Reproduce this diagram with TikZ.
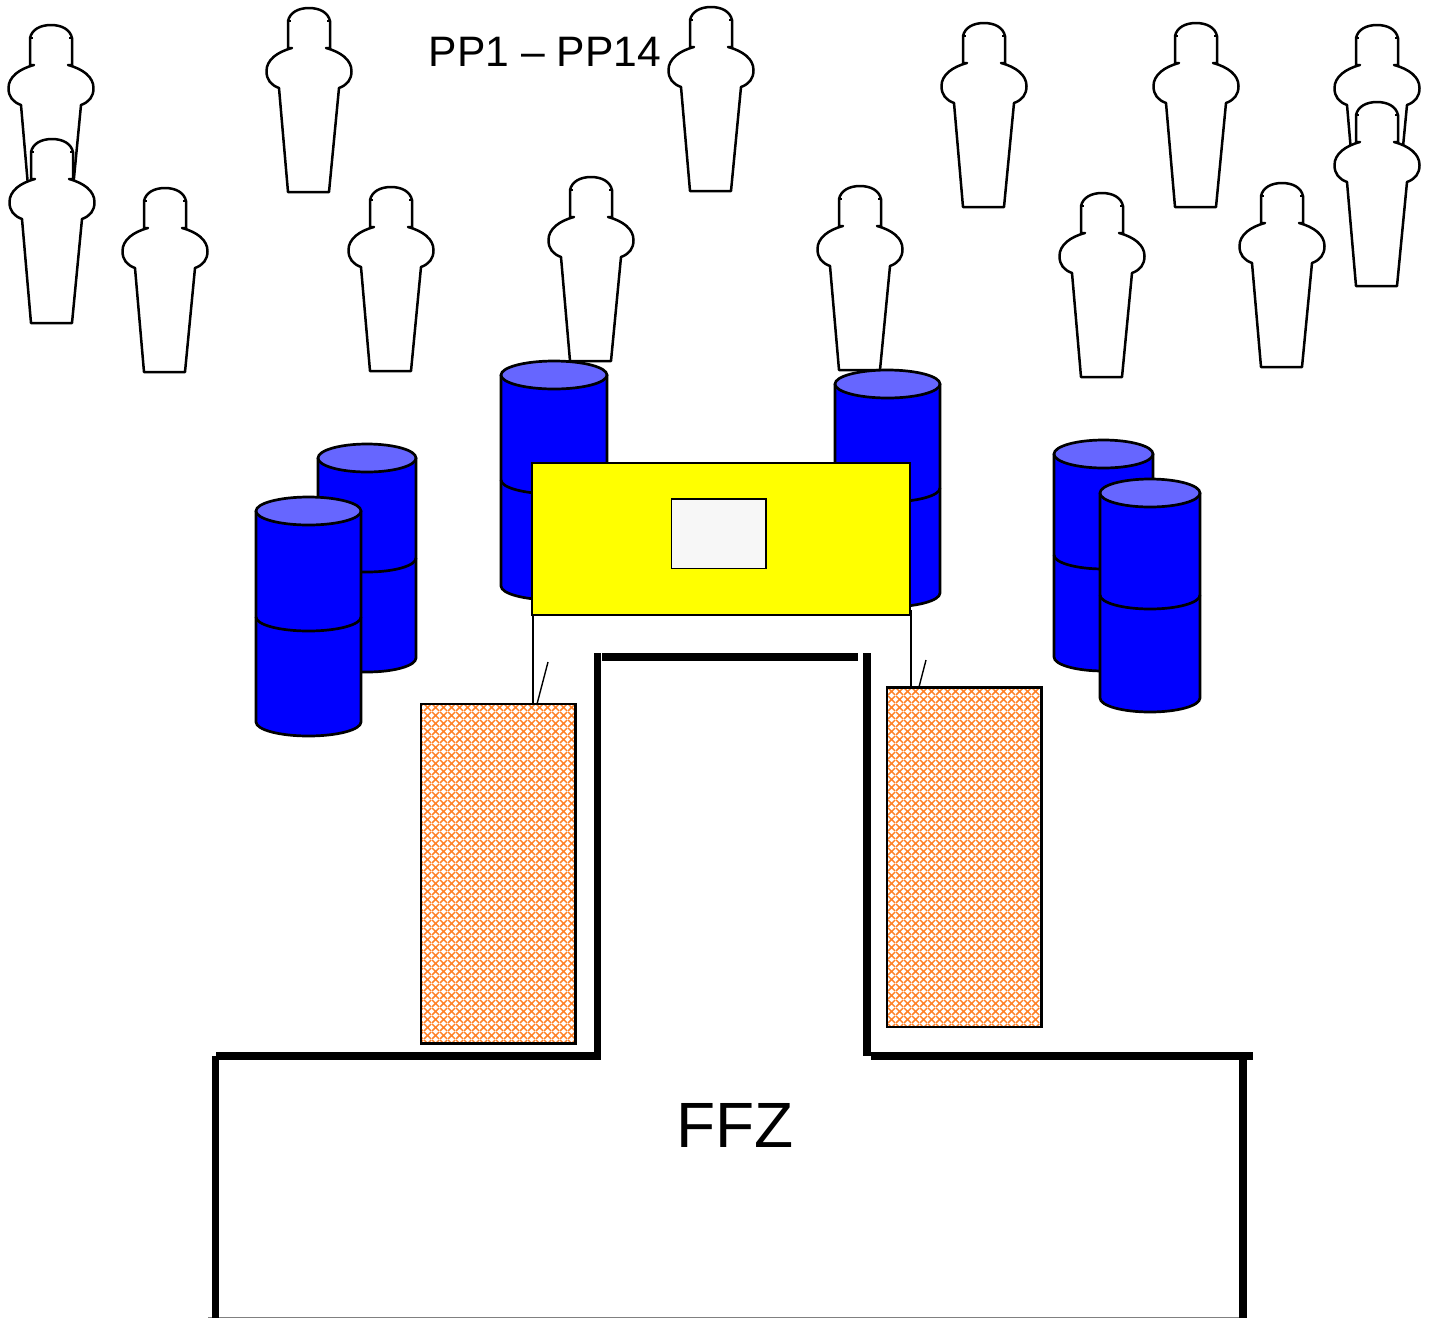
\documentclass[tikz,border=0pt]{standalone}
\usepackage{fontspec}
\setmainfont{Liberation Sans}
\usetikzlibrary{patterns}
\definecolor{cylblue}{RGB}{0,0,255}
\definecolor{cyltop}{RGB}{102,102,255}
\definecolor{tableyellow}{RGB}{255,255,0}
\definecolor{hatch}{RGB}{255,130,40}
\pgfdeclarepatternformonly{orangeweave}{\pgfpointorigin}{\pgfpoint{4pt}{4pt}}{\pgfpoint{4pt}{4pt}}{
  \pgfsetlinewidth{0.8pt}
  \pgfpathmoveto{\pgfpoint{0pt}{0pt}}\pgfpathlineto{\pgfpoint{4pt}{4pt}}
  \pgfpathmoveto{\pgfpoint{0pt}{4pt}}\pgfpathlineto{\pgfpoint{4pt}{0pt}}
  \pgfusepath{stroke}
}
\tikzset{
  x=0.5pt,y=-0.5pt,
  outl/.style={draw=black,line width=1.25pt,line join=round},
  drumline/.style={draw=black,line width=1.35pt,line join=round},
  wall/.style={draw=black,line width=3.9pt,line cap=butt},
  thin line/.style={draw=black,line width=0.7pt},
  weave/.style={draw=none,fill=white,postaction={pattern=orangeweave,pattern color=hatch}},
  matframe/.style={draw=black,line width=1.2pt,fill=none},
  label/.style={inner sep=0pt,anchor=center,text=black},
}
% person: #1 cx, #2 top y
\newcommand{\person}[2]{%
  \begin{scope}[shift={(#1,#2)}]
    \path[outl,fill=white] (-21,13) .. controls (-19,4) and (-10,0) .. (0,0)
      .. controls (10,0) and (19,4) .. (21,13) -- (21,40) -- (17,40)
      .. controls (32,44) and (42.5,52) .. (42.5,63) .. controls (42.5,72) and (38,77) .. (30,80)
      -- (20,184) -- (-21,184) -- (-30,80)
      .. controls (-38,77) and (-42.5,72) .. (-42.5,63) .. controls (-42.5,52) and (-32,44) .. (-17,40)
      -- (-21,40) -- cycle;
    \draw[black,line width=1.1pt] (-21,13)--(-18,13) (21,13)--(18,13);
  \end{scope}}
% drum: #1 left, #2 right, #3 top ellipse centre y, #4 seam side y, #5 bottom side y
\newcommand{\drum}[5]{%
  \pgfmathsetmacro{\rx}{(#2-#1)/2}\pgfmathsetmacro{\cx}{(#1+#2)/2}
  \path[drumline,fill=cylblue] (#1,#3) -- (#1,#5) arc[start angle=180,end angle=0,x radius=\rx,y radius=14]
    -- (#2,#3) -- cycle;
  \path[drumline] (#1,#4) arc[start angle=180,end angle=0,x radius=\rx,y radius=14];
  \path[drumline,fill=cyltop] (\cx,#3) ellipse[x radius=\rx,y radius=14];}
\begin{document}
\begin{tikzpicture}
\useasboundingbox (0,0) rectangle (1429,1318);
\fill[white] (0,0) rectangle (1429,1318);
% people
\person{51}{25}\person{52}{139}\person{165}{188}\person{309}{8}\person{391}{187}
\person{591}{177}\person{711}{7}\person{860}{186}\person{984}{23}\person{1102}{193}
\person{1196}{23}\person{1282}{183}\person{1377}{25}\person{1377}{102}
% drums
\drum{318}{416}{458}{558}{658}
\drum{256}{361}{511}{617}{722}
\drum{501}{607}{375}{480}{586}
\drum{835}{940}{384}{488}{593}
\drum{1054}{1153}{454}{555}{657}
\drum{1100}{1200}{493}{595}{698}
% table
\node[draw=black,line width=0.85pt,fill=tableyellow,minimum width=189pt,minimum height=76pt,inner sep=0pt,anchor=north west] (table) at (531,462) {};
\node[draw=black,line width=0.85pt,fill=black!3,minimum width=47.25pt,minimum height=34.75pt,inner sep=0pt,anchor=north west] (screen) at (670.5,498) {};
% mats
\node[weave,minimum width=76.75pt,minimum height=169.25pt,inner sep=0pt,anchor=north west] (matL) at (421,704) {};
\node[weave,minimum width=76.75pt,minimum height=169.25pt,inner sep=0pt,anchor=north west] (matR) at (887,687.5) {};
\draw[matframe] (matL.north west) rectangle (matL.south east);
\draw[matframe] (matR.north west) rectangle (matR.south east);
% thin lines
\coordinate (lA) at (533,614); \coordinate (lB) at (533,704);
\coordinate (lC) at (548,662); \coordinate (lD) at (537,704);
\coordinate (rA) at (911,610); \coordinate (rB) at (911,687);
\coordinate (rC) at (926,660); \coordinate (rD) at (919,687);
\draw[thin line] (lA)--(lB) (rA)--(rB);
\draw[thin line] (lC)--(lD) (rC)--(rD);
% walls
\coordinate (w1) at (216,1056); \coordinate (w2) at (600,1056);
\coordinate (w3) at (597.5,653); \coordinate (w4) at (597.5,1060);
\coordinate (w5) at (602,657); \coordinate (w6) at (858,657);
\coordinate (w7) at (866.7,653); \coordinate (w8) at (866.7,1056);
\coordinate (w9) at (871,1056); \coordinate (w10) at (1253,1056);
\coordinate (w11) at (1243,1056); \coordinate (w12) at (1243,1318);
\coordinate (w13) at (215.5,1056); \coordinate (w14) at (215.5,1318);
\coordinate (w15) at (208,1317.5);
\draw[gray,line width=0.5pt] (w15)--(1243,1317.5);
\draw[wall] (w1)--(w2);\draw[wall] (w3)--(w4);\draw[wall] (w5)--(w6);\draw[wall] (w7)--(w8);
\draw[wall] (w9)--(w10);\draw[wall] (w11)--(w12);\draw[wall] (w13)--(w14);
% texts
\node[label,font=\fontsize{21.3}{24}\selectfont] (pp) at (545,52) {PP1 – PP14};
\node[label,font=\fontsize{32}{36}\selectfont] (ffz) at (735,1125) {FFZ};
\end{tikzpicture}
\end{document}
